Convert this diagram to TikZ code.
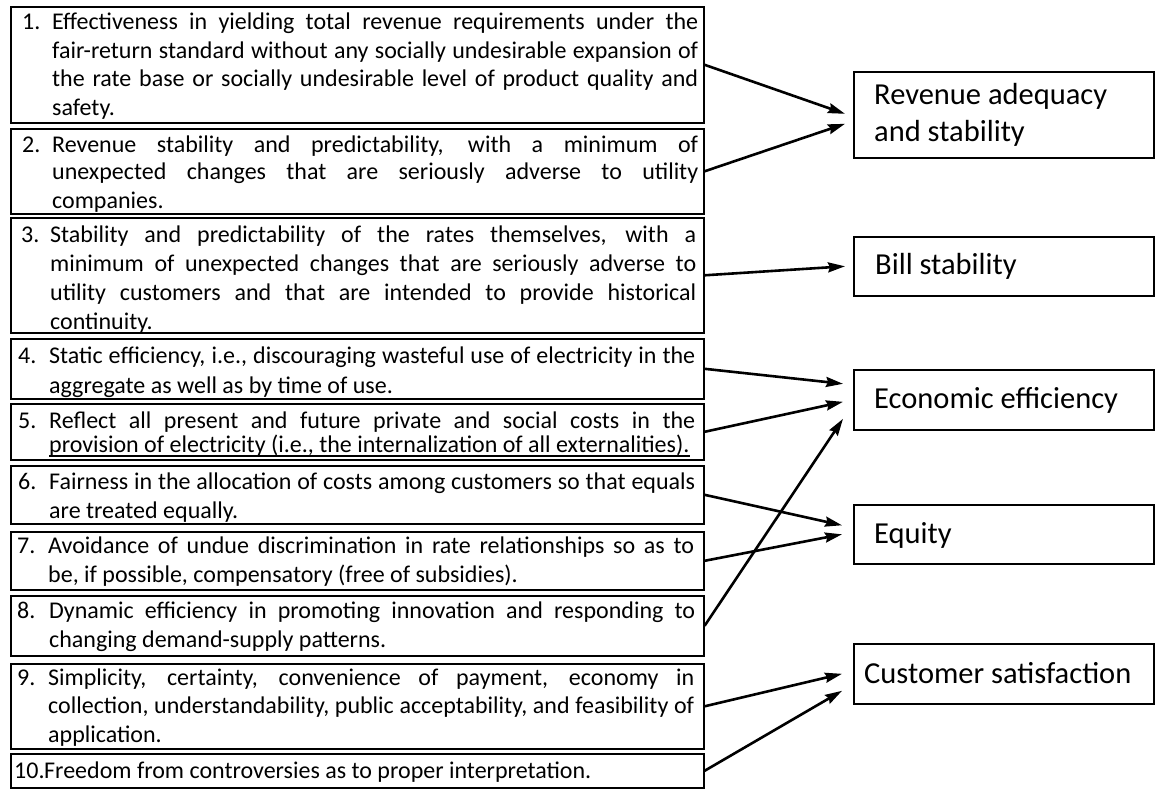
\documentclass[tikz,border=0pt]{standalone}
\usepackage{fontspec}
\setmainfont{Carlito}
\usetikzlibrary{arrows.meta,calc}
% one justified line of a criterion
\newcommand\fl[1]{\hbox to 646pt{#1}}
% one line at its natural width
\newcommand\nl[1]{\hbox{#1}}
% a stack of lines whose baseline is that of its first line
\newcommand\lines[2]{\vtop{\baselineskip=#1pt\lineskiplimit=-100pt #2}}
% underline set close to the baseline
\newcommand\ulin[1]{\setbox0\hbox{#1}\rlap{\rule[-4.5pt]{\wd0}{1.2pt}}\box0}

\begin{document}
\begin{tikzpicture}[x=1pt,y=-1pt,
  lbox/.style={draw, line width=1.6pt, minimum width=693pt, inner sep=0pt, anchor=north west},
  rbox/.style={draw, line width=1.6pt, minimum width=300pt, inner sep=0pt, anchor=north west},
  ltext/.style={anchor=base west, inner sep=0pt, font=\fontsize{24}{28}\selectfont},
  num/.style={anchor=base west, inner sep=0pt, font=\fontsize{24}{28}\selectfont},
  rtext/.style={anchor=base west, inner sep=0pt, font=\fontsize{30.5}{35}\selectfont},
  arr/.style={-{Stealth[length=17pt,width=10pt,inset=2pt]}, line width=2.6pt}]

\fill[white] (0,0) rectangle (1161,789);
\useasboundingbox (0,0) rectangle (1161,789);

% criteria boxes
\node[lbox, minimum height=116pt] (b1) at (10,6) {};
\node[lbox, minimum height=85pt]  (b2) at (10,128) {};
\node[lbox, minimum height=115pt] (b3) at (10,217) {};
\node[lbox, minimum height=60pt]  (b4) at (10,338) {};
\node[lbox, minimum height=56pt]  (b5) at (10,403) {};
\node[lbox, minimum height=58pt]  (b6) at (10,465) {};
\node[lbox, minimum height=58pt]  (b7) at (10,531) {};
\node[lbox, minimum height=60pt]  (b8) at (10,595) {};
\node[lbox, minimum height=85pt]  (b9) at (10,663) {};
\node[lbox, minimum height=34pt]  (b10) at (10,753) {};

% criteria numbers
\node[num] (n1) at (22,30) {1.};
\node[num] (n2) at (22,152) {2.};
\node[num] (n3) at (21,242) {3.};
\node[num] (n4) at (18,363) {4.};
\node[num] (n5) at (18,428) {5.};
\node[num] (n6) at (18,489) {6.};
\node[num] (n7) at (17,553) {7.};
\node[num] (n8) at (17,618) {8.};
\node[num] (n9) at (17,685) {9.};
\node[num] (n10) at (14,778) {10.};

% criteria texts
\node[ltext] (t1) at (52,30) {\lines{28.5}{%
  \fl{Effectiveness in yielding total revenue requirements under the}
  \fl{fair-return standard without any socially undesirable expansion of}
  \fl{the rate base or socially undesirable level of product quality and}
  \nl{safety.}}};
\node[ltext] (t2) at (52,152) {\lines{28}{%
  \fl{Revenue stability and predictability, with a minimum of}
  \fl{unexpected changes that are seriously adverse to utility}
  \nl{companies.}}};
\node[ltext] (t3) at (50,242) {\lines{29}{%
  \fl{Stability and predictability of the rates themselves, with a}
  \fl{minimum of unexpected changes that are seriously adverse to}
  \fl{utility customers and that are intended to provide historical}
  \nl{continuity.}}};
\node[ltext] (t4) at (49,363) {\lines{30}{%
  \fl{Static efficiency, i.e., discouraging wasteful use of electricity in the}
  \nl{aggregate as well as by time of use.}}};
\node[ltext] (t5) at (49,428) {\lines{24}{%
  \fl{Reflect all present and future private and social costs in the}
  \nl{\ulin{provision of electricity (i.e., the internalization of all externalities).}}}};
\node[ltext] (t6) at (49,489) {\lines{29}{%
  \fl{Fairness in the allocation of costs among customers so that equals}
  \nl{are treated equally.}}};
\node[ltext] (t7) at (48,553) {\lines{29}{%
  \fl{Avoidance of undue discrimination in rate relationships so as to}
  \nl{be, if possible, compensatory (free of subsidies).}}};
\node[ltext] (t8) at (49,618) {\lines{29}{%
  \fl{Dynamic efficiency in promoting innovation and responding to}
  \nl{changing demand-supply patterns.}}};
\node[ltext] (t9) at (48,685) {\lines{28.5}{%
  \fl{Simplicity, certainty, convenience of payment, economy in}
  \fl{collection, understandability, public acceptability, and feasibility of}
  \nl{application.}}};
\node[ltext] (t10) at (44,778) {Freedom from controversies as to proper interpretation.};

% objective boxes
\node[rbox, minimum height=86pt] (rev)  at (853,71) {};
\node[rbox, minimum height=59pt] (bill) at (853,236) {};
\node[rbox, minimum height=60pt] (econ) at (853,369) {};
\node[rbox, minimum height=59pt] (eq)   at (853,504) {};
\node[rbox, minimum height=60pt] (cust) at (853,643) {};

\node[rtext] (rrev)  at (874,105) {\lines{36}{\nl{Revenue adequacy}\nl{and stability}}};
\node[rtext] (rbill) at (875,274) {Bill stability};
\node[rtext] (recon) at (874,408) {Economic efficiency};
\node[rtext] (req)   at (874,543) {Equity};
\node[rtext] (rcust) at (864,683) {Customer satisfaction};

% links from criteria to objectives
\draw[arr] (b1.east) -- ($(rev.west)+(-8,-1)$);
\draw[arr] (b2.east) -- ($(rev.west)+(-8,9)$);
\draw[arr] (b3.east) -- ($(bill.west)+(-8,0)$);
\draw[arr] (b4.east) -- ($(econ.west)+(-10,-16)$);
\draw[arr] (b5.east) -- ($(econ.west)+(-10,2)$);
\draw[arr] (b8.east) -- ($(econ.west)+(-10,19)$);
\draw[arr] (b6.east) -- ($(eq.west)+(-11,-9)$);
\draw[arr] (b7.east) -- ($(eq.west)+(-11,0)$);
\draw[arr] (b9.east) -- ($(cust.west)+(-11,0)$);
\draw[arr] (b10.east) -- ($(cust.west)+(-11,17)$);
\end{tikzpicture}
\end{document}
